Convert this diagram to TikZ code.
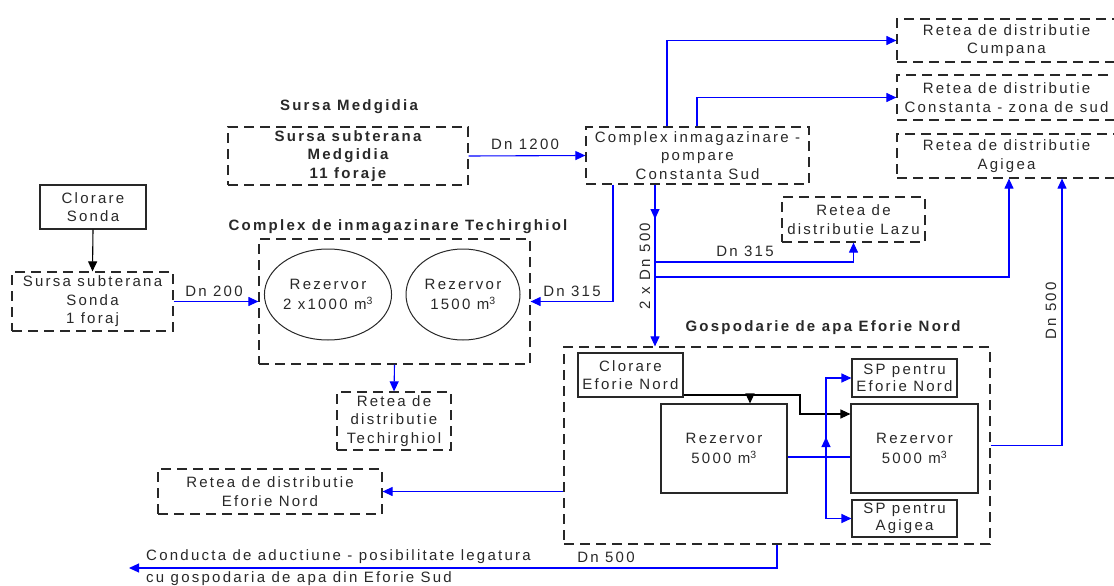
\documentclass[tikz,border=0pt]{standalone}
\usepackage{fontspec}
\setmainfont{Liberation Sans}[LetterSpace=15]
\usetikzlibrary{arrows.meta,shapes.geometric,decorations.markings}
\definecolor{pipeblue}{RGB}{0,0,255}
\definecolor{ink}{RGB}{40,40,40}
\begin{document}
\begin{tikzpicture}[x=1pt,y=-1pt,
  every node/.style={font=\fontsize{15}{18.5}\selectfont, text=ink, inner sep=0pt, align=center},
  dbox/.style={draw=ink, line width=1.2pt, dash pattern=on 10pt off 6pt},
  sbox/.style={draw=ink, line width=1.1pt},
  ttl/.style={font=\fontsize{15}{18.5}\selectfont\bfseries},
  tip/.style={-{Triangle[length=10pt,width=9pt]}},
  flow/.style={draw=pipeblue, line width=1.1pt, tip},
  flowline/.style={draw=pipeblue, line width=1.1pt},
  blkflow/.style={draw=black, line width=1.1pt, tip}
]
\useasboundingbox (0,0) rectangle (1114,586);

% titles
\node[ttl] (medgtitle) at (349,107) {Sursa Medgidia};
\node[ttl] (techtitle) at (398,227) {Complex de inmagazinare Techirghiol};
\node[ttl] (gosptitle) at (823,328) {Gospodarie de apa Eforie Nord};

% boxes
\node[dbox, minimum width=240, minimum height=58, font=\fontsize{15}{18.5}\selectfont\bfseries] (medg) at (348,156) {Sursa subterana\\Medgidia\\11 foraje};
\node[dbox, minimum width=223, minimum height=57] (cst) at (697.5,155.5) {Complex inmagazinare -\\pompare\\Constanta Sud};
\node[dbox, minimum width=219, minimum height=43] (cump) at (1006.5,40.5) {Retea de distributie\\Cumpana};
\node[dbox, minimum width=219, minimum height=45] (czs) at (1006.5,97.5) {Retea de distributie\\Constanta - zona de sud};
\node[dbox, minimum width=219, minimum height=44] (agi) at (1006.5,156) {Retea de distributie\\Agigea};
\node[dbox, minimum width=143, minimum height=45] (lazu) at (853.5,219.5) {Retea de\\distributie Lazu};
\node[sbox, minimum width=106, minimum height=44] (clsonda) at (93,207) {Clorare\\Sonda};
\node[dbox, minimum width=161, minimum height=59] (sonda) at (92.5,301.5) {Sursa subterana\\Sonda\\1 foraj};
\node[dbox, minimum width=271, minimum height=125] (tech) at (394.5,301.5) {};
\node[ellipse, draw=ink, line width=1pt, minimum width=114, minimum height=91, font=\fontsize{15}{20}\selectfont] (e1) at (328,294.5) {Rezervor\\2 x1000 m\textsuperscript{3}};
\node[ellipse, draw=ink, line width=1pt, minimum width=114, minimum height=91, font=\fontsize{15}{20}\selectfont] (e2) at (463,294.5) {Rezervor\\1500 m\textsuperscript{3}};
\node[dbox, minimum width=114, minimum height=58] (techd) at (394,421) {Retea de\\distributie\\Techirghiol};
\node[dbox, minimum width=224, minimum height=45] (efnd) at (270,491.5) {Retea de distributie\\Eforie Nord};
\node[dbox, minimum width=426, minimum height=197] (gosp) at (777,445.5) {};
\node[sbox, minimum width=105, minimum height=44] (clef) at (630.5,375) {Clorare\\Eforie Nord};
\node[sbox, minimum width=126, minimum height=89, font=\fontsize{15}{20}\selectfont] (r1) at (724,448.5) {Rezervor\\5000 m\textsuperscript{3}};
\node[sbox, minimum width=127, minimum height=89, font=\fontsize{15}{20}\selectfont] (r2) at (914.5,448.5) {Rezervor\\5000 m\textsuperscript{3}};
\node[sbox, minimum width=105, minimum height=38, font=\fontsize{15}{17}\selectfont] (spen) at (904.5,378) {SP pentru\\Eforie Nord};
\node[sbox, minimum width=105, minimum height=37, font=\fontsize{15}{17}\selectfont] (spag) at (904.5,518.5) {SP pentru\\Agigea};

% helper coordinates
\coordinate (xb) at (667,0);
\coordinate (xc) at (697,0);
\coordinate (xd) at (613,0);
\coordinate (xe) at (655,0);
\coordinate (yf) at (0,262);
\coordinate (yg) at (0,277);
\coordinate (xg) at (1009,0);
\coordinate (xh) at (1062,0);
\coordinate (ym) at (0,568);
\coordinate (xm) at (129,0);
\coordinate (yn) at (0,395);
\coordinate (yn2) at (0,414);
\coordinate (xn) at (800,0);
\coordinate (xr) at (750,0);
\coordinate (yo) at (0,457);
\coordinate (yo2) at (0,437);
\coordinate (xo) at (826,0);
\coordinate (ye) at (0,219);

% connectors
\draw[flow] (medg.east) -- (cst.west);
\draw[flow] (cst.north -| xb) |- (cump.west);
\draw[flow] (cst.north -| xc) |- (czs.west);
\draw[flow] (cst.south -| xd) |- (tech.east);
\draw[flow] (cst.south -| xe) -- (gosp.north -| xe);
\draw[flow] (cst.south -| xe) -- (xe |- ye);
\draw[flow] (xe |- yf) -| (lazu.south);
\draw[flow] (xe |- yg) -| (agi.south -| xg);
\draw[flow] (gosp.east) -| (agi.south -| xh);
\draw[flow] (sonda.east) -- (tech.west);
\draw[blkflow] (clsonda.south) -- (sonda.north);
\draw[flow] (tech.south) -- (techd.north);
\draw[flow] (gosp.west |- efnd.east) -- (efnd.east);
\draw[flow] (gosp.south) |- (xm |- ym);
\draw[blkflow] (clef.east |- yn) -| (xn |- yn2) -- (r2.west |- yn2);
\draw[blkflow] (xr |- yn) -- (r1.north -| xr);
\draw[flowline] (r1.east |- yo) -- (r2.west |- yo);
\draw[flow] (xo |- yo) |- (spen.west);
\draw[flow] (xo |- yo) |- (spag.west);
\draw[flow] (xo |- yo) -- (xo |- yo2);

% labels
\node (l1) at (525,144) {Dn 1200};
\node (l2) at (572,291) {Dn 315};
\node[rotate=90] (l3) at (645,266) {2 x Dn 500};
\node (l4) at (745,251) {Dn 315};
\node[rotate=90] (l5) at (1051,311) {Dn 500};
\node (l6) at (214,291) {Dn 200};
\node (l7) at (606,557) {Dn 500};
\node[anchor=west] (l8) at (146,557) {Conducta de aductiune - posibilitate legatura};
\node[anchor=west] (l9) at (146,579) {cu gospodaria de apa din Eforie Sud};
\end{tikzpicture}
\end{document}
